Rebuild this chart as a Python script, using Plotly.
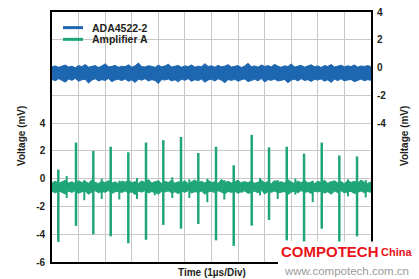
import numpy as np
import plotly.graph_objects as go

# ---------------- data ----------------
T_SPAN = 12.0          # µs (12 divisions, 1 µs/div)
N_SAMP = 97            # envelope samples (every 0.125 µs)

# ADA4522-2 noise band (right axis, mV): upper and lower envelope
blue_hi = [0.05, 0.12, 0.02, 0.08, 0.18, 0.04, 0.10, -0.02, 0.15, 0.06,
           0.22, 0.03, 0.09, 0.14, 0.01, 0.11, 0.27, 0.05, 0.08, 0.16,
           0.02, 0.10, 0.06, 0.20, 0.03, 0.12, 0.33, 0.07, 0.04, 0.13,
           0.09, 0.01, 0.17, 0.06, 0.11, 0.24, 0.04, 0.09, 0.15, 0.02,
           0.12, 0.07, 0.19, 0.03, 0.10, 0.06, 0.28, 0.08, 0.13, 0.02,
           0.16, 0.05, 0.10, 0.21, 0.04, 0.09, 0.14, 0.00, 0.11, 0.31,
           0.06, 0.12, 0.03, 0.18, 0.08, 0.14, 0.05, 0.23, 0.09, 0.02,
           0.13, 0.07, 0.26, 0.04, 0.11, 0.16, 0.03, 0.09, 0.20, 0.06,
           0.12, 0.01, 0.15, 0.08, 0.22, 0.04, 0.10, 0.17, 0.05, 0.13,
           0.07, 0.19, 0.03, 0.11, 0.08, 0.14, 0.06]
blue_lo = [-0.86, -0.95, -0.80, -0.90, -1.05, -0.83, -0.92, -0.78, -0.98, -0.88,
           -0.84, -1.12, -0.90, -0.81, -0.96, -0.87, -0.93, -0.79, -1.02, -0.89,
           -0.85, -0.94, -0.82, -0.99, -0.88, -1.08, -0.84, -0.91, -0.80, -0.97,
           -0.87, -0.93, -1.15, -0.86, -0.90, -0.82, -0.96, -0.88, -1.03, -0.84,
           -0.92, -0.80, -0.99, -0.87, -0.94, -0.83, -1.06, -0.89, -0.85, -0.97,
           -0.81, -0.91, -1.10, -0.86, -0.93, -0.84, -0.98, -0.88, -0.82, -1.01,
           -0.90, -0.85, -0.95, -0.79, -1.04, -0.87, -0.92, -0.83, -0.97, -0.89,
           -0.86, -1.09, -0.91, -0.84, -0.96, -0.80, -0.93, -0.87, -1.00, -0.85,
           -0.90, -0.82, -0.98, -0.88, -1.07, -0.84, -0.94, -0.81, -0.96, -0.89,
           -0.86, -1.02, -0.90, -0.83, -0.95, -0.87, -0.92]

# Amplifier A noise band (left axis, mV): upper and lower envelope
green_hi = [-0.30, -0.18, -0.34, -0.24, -0.12, -0.31, -0.22, -0.36, -0.15, -0.28,
            -0.20, -0.33, -0.08, -0.27, -0.35, -0.19, -0.29, -0.13, -0.32, -0.23,
            -0.37, -0.17, -0.26, -0.10, -0.30, -0.21, -0.34, -0.16, -0.28, -0.06,
            -0.31, -0.24, -0.14, -0.35, -0.20, -0.27, -0.11, -0.33, -0.22, -0.29,
            -0.15, -0.36, -0.25, -0.09, -0.30, -0.19, -0.32, -0.13, -0.27, -0.23,
            -0.34, -0.05, -0.28, -0.18, -0.31, -0.24, -0.12, -0.35, -0.21, -0.29,
            -0.16, -0.33, -0.26, -0.10, -0.30, -0.20, -0.36, -0.14, -0.27, -0.22,
            -0.32, -0.07, -0.25, -0.34, -0.17, -0.29, -0.12, -0.31, -0.23, -0.35,
            -0.19, -0.28, -0.11, -0.33, -0.24, -0.15, -0.30, -0.21, -0.36, -0.13,
            -0.27, -0.18, -0.32, -0.09, -0.26, -0.34, -0.22]
green_lo = [-0.92, -1.02, -0.88, -0.97, -1.10, -0.90, -0.99, -0.86, -1.05, -0.94,
            -0.89, -1.13, -0.96, -0.87, -1.01, -0.93, -0.98, -0.85, -1.07, -0.95,
            -0.91, -1.00, -0.88, -1.04, -0.94, -1.15, -0.90, -0.97, -0.86, -1.03,
            -0.93, -0.99, -1.11, -0.92, -0.96, -0.88, -1.02, -0.94, -1.08, -0.90,
            -0.98, -0.86, -1.04, -0.93, -1.00, -0.89, -1.12, -0.95, -0.91, -1.01,
            -0.87, -0.97, -1.09, -0.92, -0.99, -0.90, -1.05, -0.94, -0.88, -1.06,
            -0.96, -0.91, -1.01, -0.85, -1.10, -0.93, -0.98, -0.89, -1.03, -0.95,
            -0.92, -1.14, -0.97, -0.90, -1.02, -0.86, -0.99, -0.93, -1.06, -0.91,
            -0.96, -0.88, -1.04, -0.94, -1.12, -0.90, -1.00, -0.87, -1.02, -0.95,
            -0.92, -1.07, -0.96, -0.89, -1.01, -0.93, -0.98]

# Amplifier A large switching glitches (µs, mV peak up, mV peak down)
spike_t = [0.237, 0.903, 1.554, 2.208, 2.871, 3.536, 4.187, 4.853, 5.504,
           6.170, 6.836, 7.513, 8.164, 8.830, 9.481, 10.147, 10.809, 11.475]
spike_up = [0.65, 2.6, 2.0, 2.3, 1.9, 2.6, 2.77, 3.0, 1.85,
            2.3, 0.96, 3.15, 2.25, 2.3, 1.8, 2.6, 1.67, 1.6]
spike_dn = [-4.55, -3.4, -4.0, -4.15, -4.65, -4.4, -3.33, -3.6, -3.26,
            -4.44, -4.84, -3.38, -2.98, -4.44, -4.8, -3.6, -4.8, -4.15]

# Amplifier A small glitches between the large ones
small_t = [0.553, 1.215, 1.870, 2.532, 3.198, 3.864, 4.526, 5.166, 5.843,
           6.482, 7.160, 7.825, 8.491, 9.153, 9.808, 10.470, 11.136, 11.802]
small_up = [0.2, -0.1, 0.0, -0.15, 0.05, -0.2, 0.1, -0.05, 0.0,
            -0.1, -0.2, 0.05, -0.1, 0.0, -0.15, -0.2, -0.05, -0.1]
small_dn = [-1.39, -1.55, -1.46, -1.5, -1.46, -1.2, -1.39, -1.39, -1.69,
            -1.5, -1.0, -1.2, -1.46, -1.15, -1.69, -0.9, -1.27, -1.35]

left_ticks = [-6, -4, -2, 0, 2, 4]
right_ticks = [-4, -2, 0, 2, 4]
series_names = ["ADA4522-2", "Amplifier A"]

# ---------------- styling ----------------
BLUE = "#1D66B0"
GREEN = "#1FA577"
TXT = "#231F20"
GRID = "#C8C8C8"
FONT = "Liberation Sans, Arial, sans-serif"

W, H = 419, 279
ML, MR, MT, MB = 52, 48, 6, 17
PW, PH = W - ML - MR, H - MT - MB


def px(x):
    return (x - ML) / PW


def py(y):
    return (MT + PH - y) / PH


t = np.linspace(0, T_SPAN, N_SAMP)

fig = go.Figure()

# blue band (right axis)
fig.add_trace(go.Scatter(x=t, y=blue_hi, yaxis="y2", mode="lines",
                         line=dict(color=BLUE, width=1), showlegend=False,
                         name=series_names[0], hoverinfo="skip"))
fig.add_trace(go.Scatter(x=t, y=blue_lo, yaxis="y2", mode="lines",
                         line=dict(color=BLUE, width=1), fill="tonexty",
                         fillcolor=BLUE, showlegend=False,
                         name=series_names[0], hoverinfo="skip"))

# green band (left axis)
fig.add_trace(go.Scatter(x=t, y=green_hi, mode="lines",
                         line=dict(color=GREEN, width=1), showlegend=False,
                         name=series_names[1], hoverinfo="skip"))
fig.add_trace(go.Scatter(x=t, y=green_lo, mode="lines",
                         line=dict(color=GREEN, width=1), fill="tonexty",
                         fillcolor=GREEN, showlegend=False,
                         name=series_names[1], hoverinfo="skip"))

# glitches
sx, sy = [], []
for tt, u, d in zip(spike_t, spike_up, spike_dn):
    sx += [tt, tt, None]
    sy += [u, d, None]
fig.add_trace(go.Scatter(x=sx, y=sy, mode="lines", line=dict(color=GREEN, width=2.5),
                         showlegend=False, name=series_names[1], hoverinfo="skip"))
qx, qy = [], []
for tt, u, d in zip(small_t, small_up, small_dn):
    qx += [tt, tt, None]
    qy += [u, d, None]
fig.add_trace(go.Scatter(x=qx, y=qy, mode="lines", line=dict(color=GREEN, width=2.0),
                         showlegend=False, name=series_names[1], hoverinfo="skip"))

# axes
left_vals = list(range(-6, 13, 2))
left_text = [str(v) if v in left_ticks else "" for v in left_vals]
right_vals = list(range(-14, 5, 2))
right_text = [str(v) if v in right_ticks else "" for v in right_vals]

fig.update_layout(
    width=W, height=H,
    margin=dict(l=ML, r=MR, t=MT, b=MB, pad=0),
    paper_bgcolor="white", plot_bgcolor="white",
    font=dict(family=FONT, color=TXT),
    showlegend=False,
    xaxis=dict(range=[0, T_SPAN], dtick=1, tick0=0, showticklabels=False,
               showgrid=True, gridcolor=GRID, gridwidth=1, zeroline=False,
               showline=True, linecolor="black", linewidth=1.6, mirror=True,
               ticks=""),
    yaxis=dict(range=[-6, 12], tickvals=left_vals, ticktext=left_text,
               showgrid=True, gridcolor=GRID, gridwidth=1, zeroline=False,
               showline=True, linecolor="black", linewidth=1.6, mirror=True,
               ticks="", tickfont=dict(size=10, weight="bold", color=TXT),
               ticklabelstandoff=3),
    yaxis2=dict(range=[-14, 4], tickvals=right_vals, ticktext=right_text,
                overlaying="y", side="right", showgrid=False, zeroline=False,
                showline=False, ticks="",
                tickfont=dict(size=10, weight="bold", color=TXT),
                ticklabelstandoff=5),
)

shapes = []
annotations = []
# manual legend
for (yy, col, name) in [(22, BLUE, series_names[0]), (34, GREEN, series_names[1])]:
    shapes.append(dict(type="line", xref="paper", yref="paper",
                       x0=px(63), x1=px(83), y0=py(yy), y1=py(yy),
                       line=dict(color=col, width=3)))
    annotations.append(dict(xref="paper", yref="paper", x=px(90), y=py(yy),
                            xanchor="left", yanchor="middle", showarrow=False,
                            text=name, font=dict(size=10.5, weight="bold", color=TXT)))

# axis titles
annotations.append(dict(xref="paper", yref="paper", x=px(21), y=py(133),
                        xanchor="center", yanchor="middle", showarrow=False,
                        textangle=-90, text="Voltage (mV)",
                        font=dict(size=10, weight="bold", color=TXT)))
annotations.append(dict(xref="paper", yref="paper", x=px(404), y=py(133),
                        xanchor="center", yanchor="middle", showarrow=False,
                        textangle=-90, text="Voltage (mV)",
                        font=dict(size=10, weight="bold", color=TXT)))
annotations.append(dict(xref="paper", yref="paper", x=px(212), y=py(273),
                        xanchor="center", yanchor="middle", showarrow=False,
                        text="Time (1µs/Div)",
                        font=dict(size=10, weight="bold", color=TXT)))

# watermark
shapes.append(dict(type="rect", xref="paper", yref="paper", layer="above",
                   x0=px(278), x1=px(419), y0=py(279), y1=py(241),
                   fillcolor="white", line=dict(width=0)))
annotations.append(dict(xref="paper", yref="paper", x=px(279), y=py(251),
                        xanchor="left", yanchor="middle", showarrow=False,
                        text="COMPOTECH",
                        font=dict(family=FONT, size=15, weight="bold", color="#E8141B")))
annotations.append(dict(xref="paper", yref="paper", x=px(379), y=py(252),
                        xanchor="left", yanchor="middle", showarrow=False,
                        text="China",
                        font=dict(family=FONT, size=11, weight="bold", color="#E8141B")))
annotations.append(dict(xref="paper", yref="paper", x=px(346), y=py(271),
                        xanchor="center", yanchor="middle", showarrow=False,
                        text="www.compotech.com.cn",
                        font=dict(family=FONT, size=11.5, color="#9A9A9A")))

fig.update_layout(shapes=shapes, annotations=annotations)

fig.write_html("out.html")
